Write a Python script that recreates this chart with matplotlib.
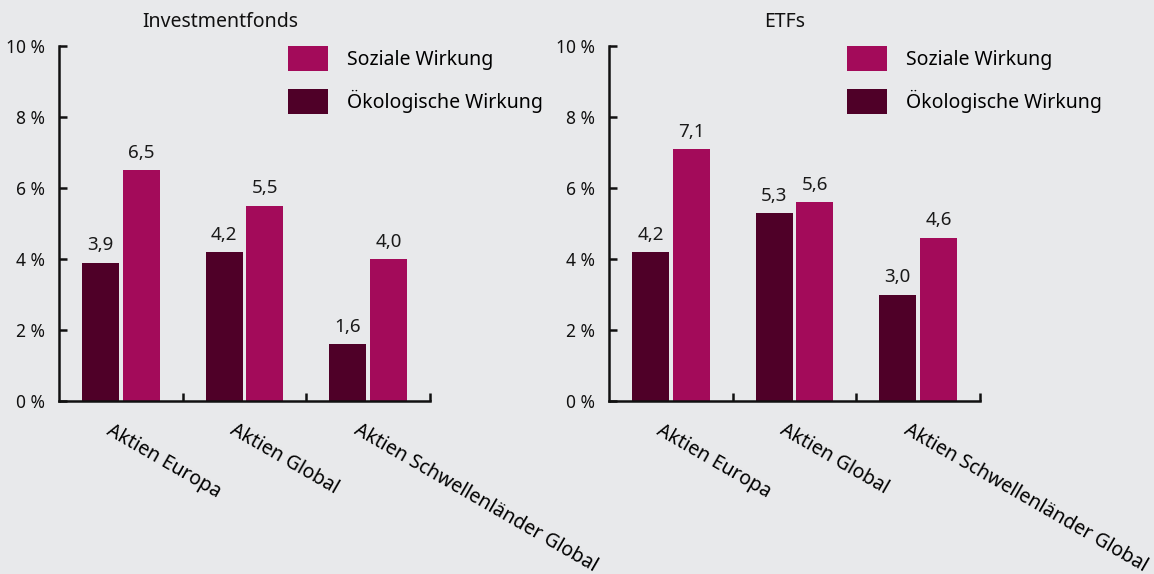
import matplotlib
matplotlib.use("Agg")
import matplotlib.pyplot as plt
import matplotlib.transforms as mtransforms
import numpy as np

# data
categories = ["Aktien Europa", "Aktien Global", "Aktien Schwellenländer Global"]
fonds_oeko = [3.9, 4.2, 1.6]
fonds_sozial = [6.5, 5.5, 4.0]
etf_oeko = [4.2, 5.3, 3.0]
etf_sozial = [7.1, 5.6, 4.6]
yticks = [0, 2, 4, 6, 8, 10]

bg = '#E8E9EB'
pink = '#A30B5A'
dark = '#4F0028'

plt.rcParams['font.family'] = ['Noto Sans', 'DejaVu Sans']
plt.rcParams['font.size'] = 14

fig = plt.figure(figsize=(11.54, 5.74), dpi=100, facecolor=bg)

panels = [
    (59, fonds_oeko, fonds_sozial, "Investmentfonds", 220, 288),
    (609, etf_oeko, etf_sozial, "ETFs", 785, 847),
]

W, H = 1154, 574
for left_px, oeko, sozial, title, title_x, leg_px in panels:
    ax = fig.add_axes([left_px / W, (H - 401) / H, 371 / W, 355 / H])
    ax.set_facecolor(bg)
    x = np.arange(len(categories))
    w = 0.3
    b1 = ax.bar(x - 0.165, oeko, width=w, color=dark, label="Ökologische Wirkung")
    b2 = ax.bar(x + 0.165, sozial, width=w, color=pink, label="Soziale Wirkung")
    for bars, vals in ((b1, oeko), (b2, sozial)):
        for r, v in zip(bars, vals):
            ax.annotate(f"{v:.1f}".replace('.', ','),
                        (r.get_x() + r.get_width() / 2, v),
                        xytext=(0, 6), textcoords='offset points',
                        ha='center', va='bottom', fontsize=13.5, color='#1a1a1a')

    ax.set_xlim(-0.5, 2.5)
    ax.set_ylim(0, 10)
    ax.set_yticks(yticks)
    ax.set_yticklabels([f"{t} %" for t in yticks])
    for s in ['top', 'right']:
        ax.spines[s].set_visible(False)
    for s in ['left', 'bottom']:
        ax.spines[s].set_linewidth(1.8)
        ax.spines[s].set_color('#111111')
    ax.tick_params(axis='y', direction='in', length=6, width=1.8, pad=10,
                   labelsize=12.5, colors='#111111')
    ax.set_xticks(x)
    ax.set_xticklabels(categories, rotation=-30, ha='left', rotation_mode='anchor')
    ax.tick_params(axis='x', which='major', length=0, pad=14, labelsize=14)
    ax.set_xticks([0.5, 1.5, 2.5], minor=True)
    ax.tick_params(axis='x', which='minor', direction='in', length=6, width=1.8,
                   color='#111111')
    off = mtransforms.ScaledTranslation(-8 / 100, 0, fig.dpi_scale_trans)
    for lab in ax.get_xticklabels():
        lab.set_transform(lab.get_transform() + off)

    handles = [b2, b1]
    ax.legend(handles, [h.get_label() for h in handles], loc='upper left',
              bbox_to_anchor=((leg_px - left_px) / 371, 1.0),
              frameon=False, borderpad=0, borderaxespad=0,
              handlelength=2.05, handleheight=1.6, handletextpad=1.0,
              labelspacing=0.95, fontsize=14)

    fig.text(title_x / W, 1 - 22 / H, title, ha='center', va='center', fontsize=14,
             color='#111111')

plt.savefig("out.png", dpi=100, facecolor=bg)
